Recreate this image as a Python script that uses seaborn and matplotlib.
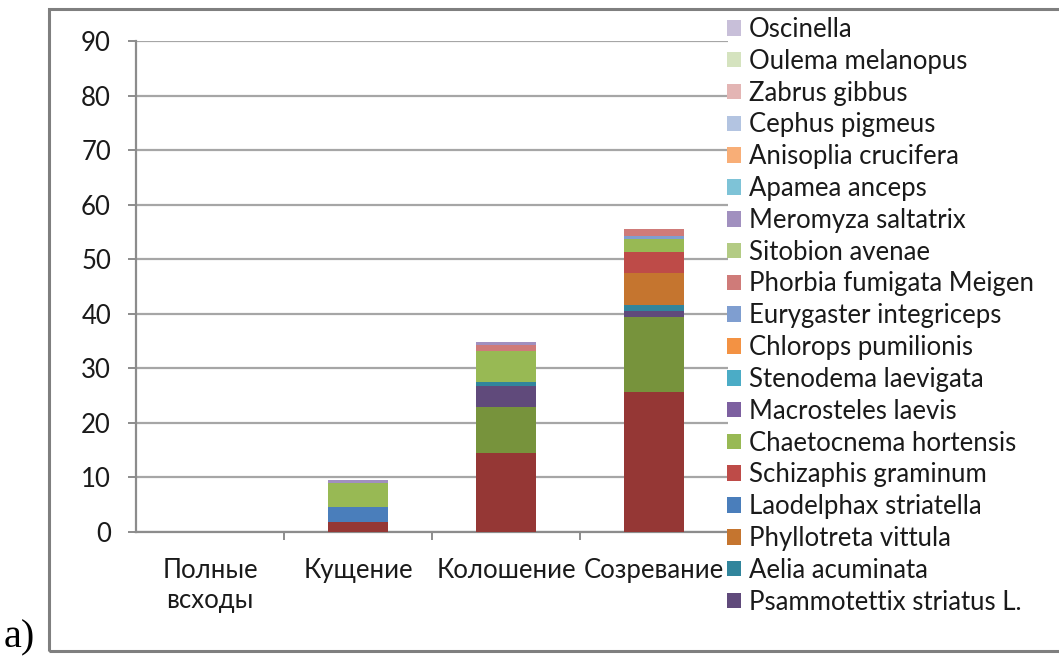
import numpy as np
import pandas as pd
import matplotlib
matplotlib.use("Agg")
import matplotlib.pyplot as plt
from matplotlib.patches import Rectangle, Patch
import seaborn as sns

# Growth stages (x categories)
stages = ["Полные\nвсходы", "Кущение", "Колошение", "Созревание"]

# Series in stacking order, bottom to top
series_names = [
    "Ряд 8", "Ряд 9",
    "Psammotettix striatus L.", "Aelia acuminata", "Phyllotreta vittula",
    "Laodelphax striatella", "Schizaphis graminum", "Chaetocnema hortensis",
    "Macrosteles laevis", "Stenodema laevigata", "Chlorops pumilionis",
    "Eurygaster integriceps", "Phorbia fumigata Meigen", "Sitobion avenae",
    "Meromyza saltatrix", "Apamea anceps", "Anisoplia crucifera",
    "Cephus pigmeus", "Zabrus gibbus", "Oulema melanopus", "Oscinella",
]
series_colors = [
    "#953735", "#77933C",
    "#604A7B", "#31859C", "#C5752F",
    "#4A7EBB", "#BE4B48", "#98B954",
    "#7D60A0", "#4BACC6", "#F39243",
    "#7F9ED0", "#CF7B79", "#B3CB84",
    "#A190BF", "#7EC3D7", "#F8AE77",
    "#B3C4E1", "#E3B5B4", "#D5E3BF", "#C8BFD9",
]
# Series without a legend entry
unlabeled = {"Ряд 8", "Ряд 9"}

# Values per series, one per stage
series_8 = [0, 1.9, 14.4, 25.7]
series_9 = [0, 0, 8.6, 13.7]
psammotettix = [0, 0, 3.8, 1.2]
aelia = [0, 0, 0.7, 1.0]
phyllotreta = [0, 0, 0, 5.8]
laodelphax = [0, 2.6, 0, 0]
schizaphis = [0, 0, 0, 4.0]
chaetocnema = [0, 4.5, 5.6, 2.3]
macrosteles = [0, 0, 0, 0]
stenodema = [0, 0, 0, 0]
chlorops = [0, 0, 0, 0]
eurygaster = [0, 0, 0, 0.6]
phorbia = [0, 0, 1.2, 1.2]
sitobion = [0, 0, 0, 0]
meromyza = [0, 0.5, 0.5, 0]
apamea = [0, 0, 0, 0]
anisoplia = [0, 0, 0, 0]
cephus = [0, 0, 0, 0]
zabrus = [0, 0, 0, 0]
oulema = [0, 0, 0, 0]
oscinella = [0, 0, 0, 0]

series_values = [
    series_8, series_9, psammotettix, aelia, phyllotreta, laodelphax,
    schizaphis, chaetocnema, macrosteles, stenodema, chlorops, eurygaster,
    phorbia, sitobion, meromyza, apamea, anisoplia, cephus, zabrus, oulema,
    oscinella,
]

y_ticks = [0, 10, 20, 30, 40, 50, 60, 70, 80, 90]

# Long table with cumulative tops for stacking
rows = []
for name, vals in zip(series_names, series_values):
    for stage, v in zip(stages, vals):
        rows.append({"stage": stage, "species": name, "value": v})
df = pd.DataFrame(rows)
df["species"] = pd.Categorical(df["species"], categories=series_names, ordered=True)
df = df.sort_values(["stage", "species"])
df["top"] = df.groupby("stage", observed=True)["value"].cumsum()

sns.set_theme(style="white")
font = "Lato"
plt.rcParams["font.family"] = [font, "DejaVu Sans"]
text_color = "#1a1a1a"
grid_color = "#a6a6a6"
fs = 18.5

fig = plt.figure(figsize=(10.59, 6.56), dpi=100)
W, H = 1059, 656
ax = fig.add_axes([136 / W, 1 - 532 / H, (728 - 136) / W, (532 - 41) / H])

# Draw stacked bars: each series as a bar up to its cumulative top,
# topmost series first so lower ones paint over them.
for name, color in reversed(list(zip(series_names, series_colors))):
    sub = df[df["species"] == name]
    sns.barplot(data=sub, x="stage", y="top", order=stages, color=color,
                saturation=1, width=0.4, ax=ax, errorbar=None,
                linewidth=0, zorder=3)

ax.set_ylim(0, 90)
ax.set_xlim(-0.5, 3.5)
ax.set_yticks(y_ticks)
ax.set_xlabel("")
ax.set_ylabel("")
ax.yaxis.grid(True, color=grid_color, linewidth=1.6, zorder=0)
ax.set_axisbelow(True)
for s in ["top", "right"]:
    ax.spines[s].set_visible(False)
for s in ["left", "bottom"]:
    ax.spines[s].set_color("#8c8c8c")
    ax.spines[s].set_linewidth(1.6)

ax.tick_params(axis="y", direction="out", length=6, width=1.4, color="#8c8c8c",
               pad=12, labelsize=fs, labelcolor=text_color, left=True)
ax.tick_params(axis="x", which="major", length=0, pad=19,
               labelsize=fs, labelcolor=text_color)
# tick marks between categories
ax.set_xticks([0.5, 1.5, 2.5], minor=True)
ax.tick_params(axis="x", which="minor", direction="out", length=6, width=1.4,
               color="#8c8c8c", bottom=True)
for lab in ax.get_xticklabels():
    lab.set_linespacing(1.25)
    lab.set_verticalalignment("top")

# Legend (last series on top)
handles = []
labels = []
for name, color in reversed(list(zip(series_names, series_colors))):
    if name in unlabeled:
        continue
    handles.append(Patch(facecolor=color, edgecolor="none"))
    labels.append(name)
leg = fig.legend(handles, labels, loc="upper left",
                 bbox_to_anchor=(727 / W, 1 - 17 / H), frameon=False,
                 fontsize=fs, handlelength=0.55, handleheight=0.55,
                 handletextpad=0.3, labelspacing=0.265, borderpad=0,
                 borderaxespad=0)
for t in leg.get_texts():
    t.set_color(text_color)

# Outer chart frame
fig.patches.append(Rectangle((49 / W, 1 - 651 / H), (1070 - 49) / W, (651 - 9) / H,
                             transform=fig.transFigure, fill=False,
                             edgecolor="#7f7f7f", linewidth=2.2))

fig.text(4 / W, 1 - 647 / H, "a)", family="Liberation Serif", fontsize=29,
         color="black", va="baseline", ha="left")

fig.savefig("out.png", dpi=100)
